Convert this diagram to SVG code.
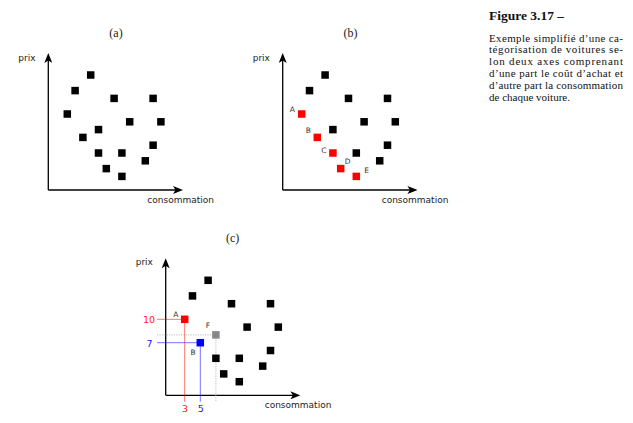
<svg xmlns="http://www.w3.org/2000/svg" width="633" height="423" viewBox="0 0 633 423">
<style>
  .bg{fill:#fff}
  .axis{stroke:#000;stroke-width:1.3;fill:none}
  .k{fill:#000}
  .r{fill:#ff0000}
  .b{fill:#0000ff}
  .g{fill:#888888}
  .ttl{font-family:"Liberation Serif","DejaVu Serif",serif;font-size:12px;fill:#222;text-anchor:middle}
  .ax{font-family:"DejaVu Sans","Liberation Sans",sans-serif;font-size:9px;fill:#222}
  .lab{font-family:"DejaVu Sans","Liberation Sans",sans-serif;font-size:7.5px;fill:#333;text-anchor:middle}
  .num{font-family:"DejaVu Sans","Liberation Sans",sans-serif;font-size:9.5px;text-anchor:middle}
  .cap{font-family:"Liberation Serif","DejaVu Serif",serif;font-size:11px;fill:#111}
  .caph{font-family:"Liberation Serif","DejaVu Serif",serif;font-size:13.5px;font-weight:bold;fill:#111}
  .gr{stroke:#ff0000;stroke-opacity:0.55;stroke-width:1}
  .gb{stroke:#0000ff;stroke-opacity:0.55;stroke-width:1}
  .gg{stroke:#aaaaaa;stroke-width:0.8;stroke-dasharray:1.2,1.2}
</style>
<defs>
  <marker id="arr" viewBox="0 0 10 8" refX="5.5" refY="4" markerWidth="10" markerHeight="8" markerUnits="userSpaceOnUse" orient="auto">
    <path d="M0,0 L10,4 L0,8 L2.5,4 Z" fill="#000"/>
  </marker>
  <rect id="s" x="-3.75" y="-3.75" width="7.5" height="7.5"/>
</defs>
<rect class="bg" x="0" y="0" width="633" height="423"/>

<!-- Panel (a) -->
<g id="panel-a" transform="translate(67.3,75)">
  <g id="connectors-a">
    <line class="axis" x1="-19" y1="115" x2="-19" y2="-17.5" marker-end="url(#arr)"/>
    <line class="axis" x1="-19" y1="115" x2="111.2" y2="115" marker-end="url(#arr)"/>
  </g>
  <text class="ttl" x="48.7" y="-38">(a)</text>
  <text class="ax" x="-49" y="-14">prix</text>
  <text class="ax" x="80" y="128">consommation</text>
  <g id="points-a" class="k">
    <use id="a1" href="#s" x="23.4" y="0"/>
    <use id="a2" href="#s" x="7.8" y="15.6"/>
    <use id="a3" href="#s" x="46.8" y="23.4"/>
    <use id="a4" href="#s" x="85.8" y="23.4"/>
    <use id="a5" href="#s" x="0" y="39"/>
    <use id="a6" href="#s" x="62.4" y="46.8"/>
    <use id="a7" href="#s" x="93.6" y="46.8"/>
    <use id="a8" href="#s" x="31.2" y="54.6"/>
    <use id="a9" href="#s" x="15.6" y="62.4"/>
    <use id="a10" href="#s" x="85.8" y="70.2"/>
    <use id="a11" href="#s" x="31.2" y="78"/>
    <use id="a12" href="#s" x="54.6" y="78"/>
    <use id="a13" href="#s" x="78" y="85.8"/>
    <use id="a14" href="#s" x="39" y="93.6"/>
    <use id="a15" href="#s" x="54.6" y="101.4"/>
  </g>
</g>

<!-- Panel (b) -->
<g id="panel-b" transform="translate(301.7,75)">
  <g id="connectors-b">
    <line class="axis" x1="-19" y1="115" x2="-19" y2="-17.5" marker-end="url(#arr)"/>
    <line class="axis" x1="-19" y1="115" x2="111.2" y2="115" marker-end="url(#arr)"/>
  </g>
  <text class="ttl" x="48.7" y="-38">(b)</text>
  <text class="ax" x="-49" y="-14">prix</text>
  <text class="ax" x="80" y="128">consommation</text>
  <g id="points-b">
    <use id="b1" class="k" href="#s" x="23.4" y="0"/>
    <use id="b2" class="k" href="#s" x="7.8" y="15.6"/>
    <use id="b3" class="k" href="#s" x="46.8" y="23.4"/>
    <use id="b4" class="k" href="#s" x="85.8" y="23.4"/>
    <use id="bA" class="r" href="#s" x="0" y="39"/>
    <use id="b6" class="k" href="#s" x="62.4" y="46.8"/>
    <use id="b7" class="k" href="#s" x="93.6" y="46.8"/>
    <use id="b8" class="k" href="#s" x="31.2" y="54.6"/>
    <use id="bB" class="r" href="#s" x="15.6" y="62.4"/>
    <use id="b10" class="k" href="#s" x="85.8" y="70.2"/>
    <use id="bC" class="r" href="#s" x="31.2" y="78"/>
    <use id="b12" class="k" href="#s" x="54.6" y="78"/>
    <use id="b13" class="k" href="#s" x="78" y="85.8"/>
    <use id="bD" class="r" href="#s" x="39" y="93.6"/>
    <use id="bE" class="r" href="#s" x="54.6" y="101.4"/>
  </g>
  <text class="lab" x="-9.4" y="36.7">A</text>
  <text class="lab" x="6.6" y="58.4">B</text>
  <text class="lab" x="22.3" y="78.4">C</text>
  <text class="lab" x="46" y="89.4">D</text>
  <text class="lab" x="65" y="97.7">E</text>
</g>

<!-- Panel (c) -->
<g id="panel-c" transform="translate(184.7,280.3)">
  <g id="connectors-c">
    <line class="axis" x1="-19" y1="115" x2="-19" y2="-17.5" marker-end="url(#arr)"/>
    <line class="axis" x1="-19" y1="115" x2="111.2" y2="115" marker-end="url(#arr)"/>
    <line class="gg" x1="-27.7" y1="54.6" x2="31.2" y2="54.6"/>
    <line class="gg" x1="31.2" y1="54.6" x2="31.2" y2="121.4"/>
    <line class="gr" x1="-27.7" y1="39" x2="0" y2="39"/>
    <line class="gr" x1="0" y1="39" x2="0" y2="121.4"/>
    <line class="gb" x1="-27.7" y1="62.4" x2="15.6" y2="62.4"/>
    <line class="gb" x1="15.6" y1="62.4" x2="15.6" y2="121.4"/>
  </g>
  <text class="ttl" x="48" y="-38.8">(c)</text>
  <text class="ax" x="-49" y="-15">prix</text>
  <text class="ax" x="80" y="128">consommation</text>
  <g id="points-c">
    <use id="c1" class="k" href="#s" x="23.4" y="0"/>
    <use id="c2" class="k" href="#s" x="7.8" y="15.6"/>
    <use id="c3" class="k" href="#s" x="46.8" y="23.4"/>
    <use id="c4" class="k" href="#s" x="85.8" y="23.4"/>
    <use id="cA" class="r" href="#s" x="0" y="39"/>
    <use id="c6" class="k" href="#s" x="62.4" y="46.8"/>
    <use id="c7" class="k" href="#s" x="93.6" y="46.8"/>
    <use id="cF" class="g" href="#s" x="31.2" y="54.6"/>
    <use id="cB" class="b" href="#s" x="15.6" y="62.4"/>
    <use id="c10" class="k" href="#s" x="85.8" y="70.2"/>
    <use id="c11" class="k" href="#s" x="31.2" y="78"/>
    <use id="c12" class="k" href="#s" x="54.6" y="78"/>
    <use id="c13" class="k" href="#s" x="78" y="85.8"/>
    <use id="c14" class="k" href="#s" x="39" y="93.6"/>
    <use id="c15" class="k" href="#s" x="54.6" y="101.4"/>
  </g>
  <text class="lab" x="-9" y="36.7">A</text>
  <text class="lab" x="23.3" y="47.4">F</text>
  <text class="lab" x="8.3" y="74.4">B</text>
  <text class="num" x="-35.7" y="42.4" fill="#ff2020">10</text>
  <text class="num" x="-35.2" y="66.4" fill="#2020ff">7</text>
  <text class="num" x="0.3" y="132.2" fill="#ff2020">3</text>
  <text class="num" x="16.1" y="132.2" fill="#2020ff">5</text>
</g>

<!-- Caption -->
<g id="caption">
  <text class="caph" x="489" y="19.5">Figure 3.17 –</text>
  <text class="cap" x="489" y="41.5" textLength="134" lengthAdjust="spacing">Exemple simplifié d’une ca-</text>
  <text class="cap" x="489" y="53.3" textLength="134" lengthAdjust="spacing">tégorisation de voitures se-</text>
  <text class="cap" x="489" y="65.1" textLength="134" lengthAdjust="spacing">lon deux axes comprenant</text>
  <text class="cap" x="489" y="76.9" textLength="134" lengthAdjust="spacing">d’une part le coût d’achat et</text>
  <text class="cap" x="489" y="88.7" textLength="134" lengthAdjust="spacing">d’autre part la consommation</text>
  <text class="cap" x="489" y="100.5">de chaque voiture.</text>
</g>
</svg>
